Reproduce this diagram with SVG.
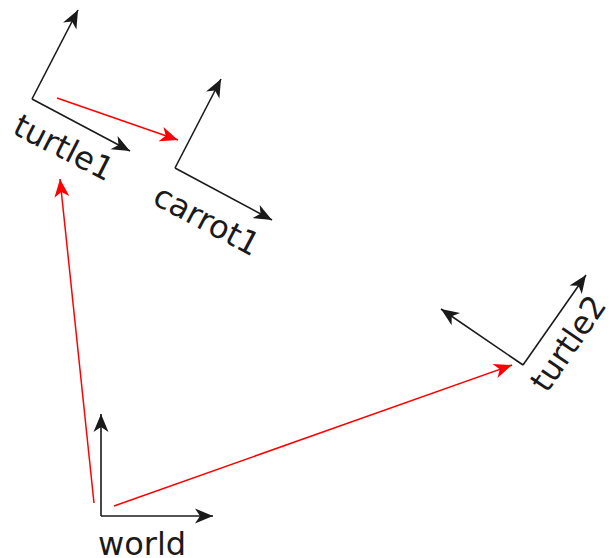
<svg xmlns="http://www.w3.org/2000/svg" width="611" height="558" viewBox="0 0 611 558">
  <style>
    .axis { stroke: #1a1a1a; stroke-width: 1.6; fill: none; marker-end: url(#headBlack); }
    .tf { stroke: #ff0000; stroke-width: 1.5; fill: none; marker-end: url(#headRed); }
    .label { font-family: "DejaVu Sans", "Liberation Sans", sans-serif; font-size: 32px; fill: #1a1a1a; }
  </style>
  <defs>
    <marker id="headBlack" markerUnits="userSpaceOnUse" markerWidth="22" markerHeight="18" viewBox="-20 -9 22 18" refX="0" refY="0" orient="auto" overflow="visible">
      <path d="M0,0 L-18,-7.5 L-13,0 L-18,7.5 Z" fill="#1a1a1a"/>
    </marker>
    <marker id="headRed" markerUnits="userSpaceOnUse" markerWidth="22" markerHeight="18" viewBox="-20 -9 22 18" refX="0" refY="0" orient="auto" overflow="visible">
      <path d="M0,0 L-18,-7.5 L-13,0 L-18,7.5 Z" fill="#ff0000"/>
    </marker>
  </defs>

  <!-- transforms between frames -->
  <g id="connectors">
    <line class="tf" x1="94" y1="503" x2="60" y2="179"/>
    <line class="tf" x1="114" y1="506" x2="512" y2="365"/>
    <line class="tf" x1="57" y1="98" x2="178" y2="140"/>
  </g>

  <g id="world">
    <line class="axis" x1="101" y1="516" x2="101" y2="414"/>
    <line class="axis" x1="101" y1="516" x2="213" y2="516"/>
    <text class="label" x="98" y="555">world</text>
  </g>

  <g id="turtle1">
    <line class="axis" x1="32" y1="99" x2="78" y2="10"/>
    <line class="axis" x1="32" y1="99" x2="130" y2="151"/>
    <text class="label" transform="translate(11,133) rotate(27)">turtle1</text>
  </g>

  <g id="carrot1">
    <line class="axis" x1="175" y1="168" x2="221" y2="79"/>
    <line class="axis" x1="175" y1="168" x2="272" y2="220"/>
    <text class="label" transform="translate(151,203) rotate(28)">carrot1</text>
  </g>

  <g id="turtle2">
    <line class="axis" x1="523" y1="365" x2="586" y2="275"/>
    <line class="axis" x1="523" y1="365" x2="441" y2="309"/>
    <text class="label" transform="translate(547,394) rotate(-55.7)">turtle2</text>
  </g>
</svg>
